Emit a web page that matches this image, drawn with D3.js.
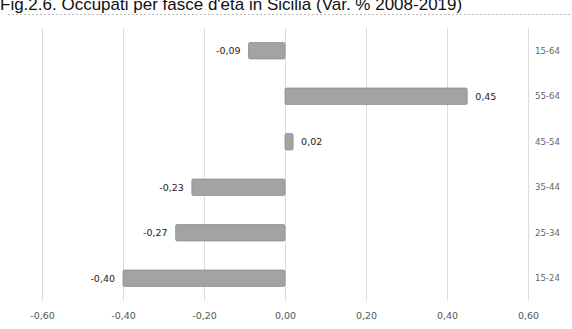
<!DOCTYPE html>
<html>
<head>
<meta charset="utf-8">
<script src="https://cdn.jsdelivr.net/npm/d3@7"></script>
<style>
  html, body { margin: 0; padding: 0; background: #fff; }
  svg { display: block; }
</style>
</head>
<body>
<svg id="chart" width="572" height="329"></svg>
<script>
// Age groups, top to bottom, and their % change in employment 2008-2019
const categories = ["15-64", "55-64", "45-54", "35-44", "25-34", "15-24"];
const values = [-0.09, 0.45, 0.02, -0.23, -0.27, -0.40];
const xTicks = [-0.6, -0.4, -0.2, 0, 0.2, 0.4, 0.6];
const title = "Fig.2.6. Occupati per fasce d'età in Sicilia (Var. % 2008-2019)";

const svg = d3.select("#chart");
const W = 572, H = 329;

// Italian number format, with a plain hyphen as minus sign
const locale = d3.formatLocale({ decimal: ",", thousands: ".", grouping: [3], currency: ["", "€"], minus: "-" });
const fmt = locale.format(".2f");

const x = d3.scaleLinear().domain([-0.6, 0.6]).range([42, 528]);
const y = d3.scaleBand().domain(categories).range([28, 301])
  .paddingInner(0.64).paddingOuter(0.32);

// Title (running against the top edge)
svg.append("text")
  .attr("x", 0).attr("y", 10)
  .attr("font-family", "Liberation Sans, Arial, sans-serif")
  .attr("font-size", 17)
  .attr("fill", "#111")
  .text(title);

// Dotted rule under the title
svg.append("line")
  .attr("x1", 8).attr("x2", W)
  .attr("y1", 14.5).attr("y2", 14.5)
  .attr("stroke", "#bbb").attr("stroke-width", 1)
  .attr("stroke-dasharray", "2,2");

// Vertical gridlines
svg.append("g").selectAll("line").data(xTicks).join("line")
  .attr("x1", d => Math.round(x(d)) + 0.5).attr("x2", d => Math.round(x(d)) + 0.5)
  .attr("y1", 28).attr("y2", 301)
  .attr("stroke", "#dcdcdc").attr("stroke-width", 1);

// Bars
svg.append("g").selectAll("rect").data(values).join("rect")
  .attr("x", d => x(Math.min(0, d)))
  .attr("y", (d, i) => y(categories[i]))
  .attr("width", d => Math.abs(x(d) - x(0)))
  .attr("height", y.bandwidth())
  .attr("rx", 1.5)
  .attr("fill", "#a3a3a3")
  .attr("stroke", "#8e8e8e")
  .attr("stroke-width", 0.8);

// Value labels
svg.append("g").selectAll("text").data(values).join("text")
  .attr("x", d => d < 0 ? x(d) - 8 : x(d) + 8)
  .attr("y", (d, i) => y(categories[i]) + y.bandwidth() / 2)
  .attr("dy", "0.35em")
  .attr("text-anchor", d => d < 0 ? "end" : "start")
  .attr("font-family", "DejaVu Sans, sans-serif")
  .attr("font-size", 9.5)
  .attr("fill", "#222")
  .text(d => fmt(d));

// Category axis on the right
const yAxis = svg.append("g")
  .attr("transform", "translate(531,0)")
  .call(d3.axisRight(y).tickSize(0).tickPadding(4));
yAxis.select(".domain").remove();
yAxis.selectAll("text")
  .attr("font-family", "DejaVu Sans Condensed, DejaVu Sans, sans-serif")
  .attr("font-size", 9.5)
  .attr("fill", "#666");

// Value axis at the bottom
const xAxis = svg.append("g")
  .attr("transform", "translate(0,309)")
  .call(d3.axisBottom(x).tickValues(xTicks).tickSize(0).tickPadding(3).tickFormat(fmt));
xAxis.select(".domain").remove();
xAxis.selectAll("text")
  .attr("font-family", "DejaVu Sans, sans-serif")
  .attr("font-size", 9.5)
  .attr("fill", "#555");
</script>
</body>
</html>
